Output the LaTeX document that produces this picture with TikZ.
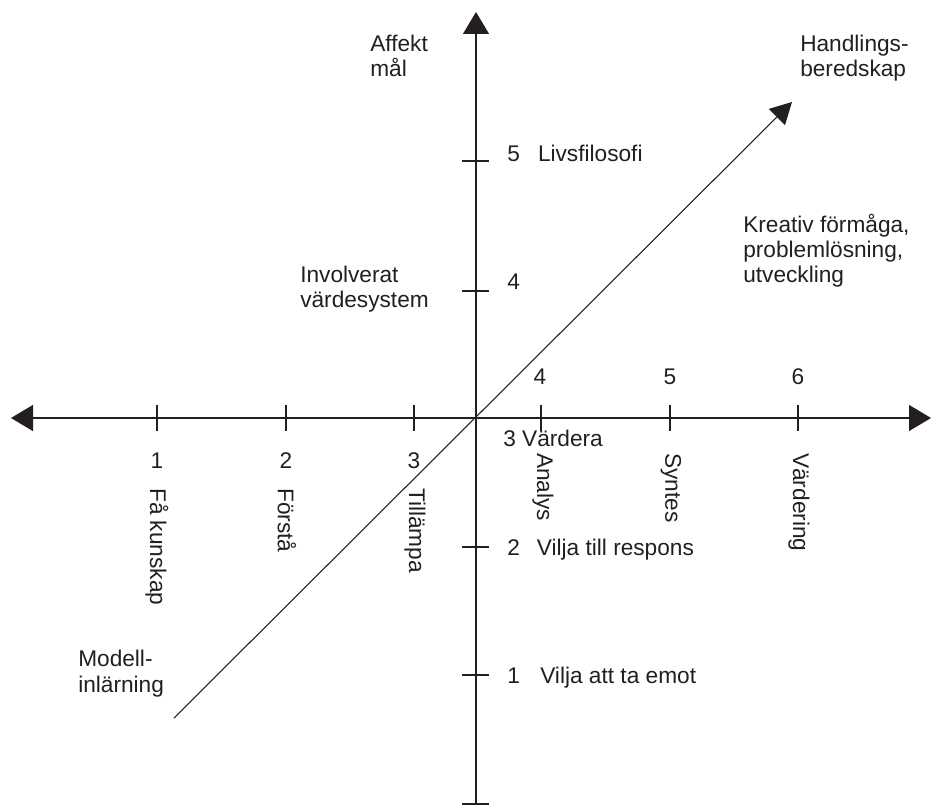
\documentclass[tikz,border=0pt]{standalone}
\usepackage{fontspec}
\setmainfont{Liberation Sans}
\usepackage{tikz}
\usetikzlibrary{arrows.meta}
\definecolor{cInk}{HTML}{231F20}
\tikzset{
  axis/.style={
    draw=cInk, line width=0.8pt,
  },
  tip/.style={
    -{Triangle[length=16.5pt, width=19.5pt]},
  },
  tick/.style={
    draw=cInk, line width=0.8pt,
  },
  lbl/.style={
    anchor=base west, inner sep=0pt, align=left, text=cInk,
    font=\fontsize{17}{19}\selectfont,
  },
  num/.style={
    anchor=base, inner sep=0pt, text=cInk,
    font=\fontsize{17}{19}\selectfont,
  },
  vlbl/.style={
    anchor=west, rotate=-90, inner sep=0pt, text=cInk,
    font=\fontsize{17}{19}\selectfont,
  },
}

\begin{document}
\begin{tikzpicture}[x=0.75pt, y=-0.75pt]
\useasboundingbox (0,0) rectangle (933,806);

% ── axes ─────────────────────────────────────────────────────
\coordinate (O) at (476,418);
\coordinate (xl) at (11,418);
\coordinate (xr) at (931,418);
\coordinate (yt) at (476,12);
\coordinate (yb) at (476,804);
\coordinate (dl) at (174,718);
\coordinate (dr) at (792,102);

\draw[axis, {Triangle[length=16.5pt, width=19.5pt]}-{Triangle[length=16.5pt, width=19.5pt]}] (xl) -- (xr);
\draw[axis, tip] (yb) -- (yt);
\draw[axis, -{Triangle[length=16pt, width=17pt]}] (dl) -- (dr);

% ── ticks ────────────────────────────────────────────────────
\foreach \x in {157,286,414,541,670,798}
  \draw[tick] (\x,405) -- (\x,431);
\foreach \y in {161,291,547,675,804}
  \draw[tick] (462,\y) -- (489,\y);

% ── cognitive axis (horizontal) ──────────────────────────────
\node[num] (n1) at (157,468) {1};
\node[num] (n2) at (286,468) {2};
\node[num] (n3) at (414,468) {3};
\node[num] (n4) at (540,384) {4};
\node[num] (n5) at (670,384) {5};
\node[num] (n6) at (798,384) {6};

\node[vlbl] (kunskap) at (157,488) {Få kunskap};
\node[vlbl] (forsta) at (287,488) {Förstå};
\node[vlbl] (tillampa) at (415,488) {Tillämpa};
\node[vlbl] (analys) at (543,453) {Analys};
\node[vlbl] (syntes) at (671,453) {Syntes};
\node[vlbl] (vardering) at (799,453) {Värdering};

% ── affective axis (vertical) ────────────────────────────────
% (multi-line labels sit on the baseline of their last line)
\node[lbl] (affekt) at (370,77) {Affekt\\mål};
\node[lbl] (livs) at (507,162) {5\hspace{0.8em}Livsfilosofi};
\node[lbl] (invol) at (300,308) {Involverat\\värdesystem};
\node[lbl] (a4) at (507,290) {4};
\node[lbl] (vardera) at (503,446) {3 Värdera};
\node[lbl] (respons) at (507,555) {2\hspace{0.75em}Vilja till respons};
\node[lbl] (emot) at (507,683) {1\hspace{0.9em}Vilja att ta emot};

% ── diagonal ─────────────────────────────────────────────────
\node[lbl] (handl) at (800,77) {Handlings-\\beredskap};
\node[lbl] (kreativ) at (743,283) {Kreativ förmåga,\\problemlösning,\\utveckling};
\node[lbl] (modell) at (78,692) {Modell-\\inlärning};

\end{tikzpicture}
\end{document}
